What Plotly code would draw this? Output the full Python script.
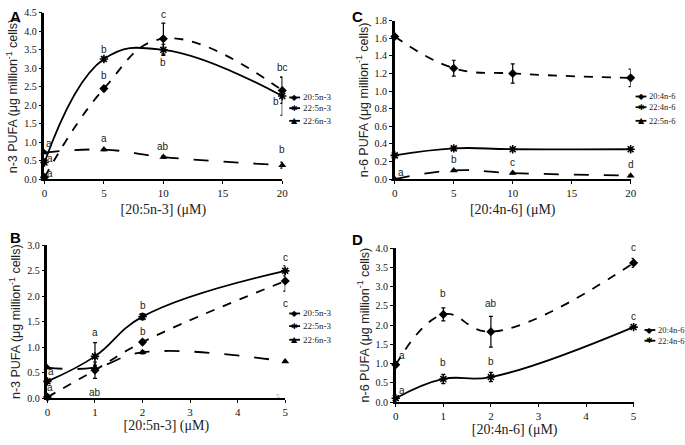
import plotly.graph_objects as go

# ---- data ----
# panel A: n-3 PUFA vs [20:5n-3], long dose range
dose_a = [0, 5, 10, 20]
epa_a = [0.05, 2.45, 3.8, 2.4]
epa_a_err = [0.03, 0.06, 0.42, 0.35]
dpa_a = [0.45, 3.25, 3.5, 2.25]
dpa_a_err = [0.05, 0.05, 0.15, 0.52]
dha_a = [0.72, 0.8, 0.6, 0.38]
dha_a_err = [0.03, 0.03, 0.03, 0.08]

# panel B: n-3 PUFA vs [20:5n-3], short dose range
dose_b = [0, 1, 2, 5]
epa_b = [0.02, 0.55, 1.1, 2.3]
epa_b_err = [0.02, 0.16, 0.04, 0.2]
dpa_b = [0.33, 0.82, 1.6, 2.5]
dpa_b_err = [0.04, 0.27, 0.06, 0.1]
dha_b = [0.6, 0.6, 0.9, 0.72]
dha_b_err = [0.02, 0.05, 0.03, 0.02]

# panel C: n-6 PUFA vs [20:4n-6], long dose range
dose_c = [0, 5, 10, 20]
aa_c = [1.62, 1.26, 1.2, 1.15]
aa_c_err = [0.02, 0.09, 0.11, 0.1]
dta_c = [0.27, 0.35, 0.34, 0.34]
dta_c_err = [0.01, 0.01, 0.01, 0.01]
dpa6_c = [0.0, 0.1, 0.07, 0.04]
dpa6_c_err = [0.0, 0.01, 0.01, 0.01]

# panel D: n-6 PUFA vs [20:4n-6], short dose range
dose_d = [0, 1, 2, 5]
aa_d = [0.97, 2.28, 1.83, 3.62]
aa_d_err = [0.05, 0.17, 0.4, 0.12]
dta_d = [0.1, 0.6, 0.65, 1.95]
dta_d_err = [0.02, 0.12, 0.12, 0.03]

n3_names = ["20:5n-3", "22:5n-3", "22:6n-3"]
n6_names_c = ["20:4n-6", "22:4n-6", "22:5n-6"]
n6_names_d = ["20:4n-6", "22:4n-6"]

SERIF = "Liberation Serif"
SANS = "Liberation Sans"
W, H = 685, 445

fig = go.Figure()

panels = {"A": ("x", "y"), "B": ("x2", "y2"), "C": ("x3", "y3"), "D": ("x4", "y4")}


def add_series(panel, xs, ys, err, name, symbol, dash):
    xa, ya = panels[panel]
    line_sym = symbol.endswith("open")
    fig.add_trace(go.Scatter(
        x=xs, y=ys, name=name, xaxis=xa, yaxis=ya, showlegend=False,
        mode="lines+markers", line=dict(color="black", width=1.8, dash=dash, shape="spline", smoothing=1.2),
        marker=dict(symbol=symbol, size=7, color="black",
                    line=dict(color="black", width=1.6 if line_sym else 0)),
        error_y=dict(type="data", array=err, color="black", thickness=1.2, width=2),
        cliponaxis=False,
    ))


add_series("A", dose_a, epa_a, epa_a_err, n3_names[0], "diamond", "dash")
add_series("A", dose_a, dpa_a, dpa_a_err, n3_names[1], "asterisk-open", "solid")
add_series("A", dose_a, dha_a, dha_a_err, n3_names[2], "triangle-up", "longdash")

add_series("B", dose_b, epa_b, epa_b_err, n3_names[0], "diamond", "dash")
add_series("B", dose_b, dpa_b, dpa_b_err, n3_names[1], "asterisk-open", "solid")
add_series("B", dose_b, dha_b, dha_b_err, n3_names[2], "triangle-up", "longdash")

add_series("C", dose_c, aa_c, aa_c_err, n6_names_c[0], "diamond", "dash")
add_series("C", dose_c, dta_c, dta_c_err, n6_names_c[1], "asterisk-open", "solid")
add_series("C", dose_c, dpa6_c, dpa6_c_err, n6_names_c[2], "triangle-up", "longdash")

add_series("D", dose_d, aa_d, aa_d_err, n6_names_d[0], "diamond", "dash")
add_series("D", dose_d, dta_d, dta_d_err, n6_names_d[1], "asterisk-open", "solid")


def letter(panel, x, y, text, dx=0, dy=0):
    xa, ya = panels[panel]
    fig.add_annotation(x=x, y=y, xref=xa, yref=ya, text=text, showarrow=False,
                       xanchor="center", yanchor="middle",
                       xshift=dx, yshift=dy, font=dict(family=SANS, size=10, color="#222"))


# significance letters, panel A
letter("A", 0, epa_a[0], "a", 6, 4)
letter("A", 5, epa_a[1], "b", 0, 13)
letter("A", 10, epa_a[2], "c", 0, 24)
letter("A", 20, epa_a[3], "bc", 0, 23)
letter("A", 0, dpa_a[0], "a", 6, 4)
letter("A", 5, dpa_a[1], "b", 0, 10)
letter("A", 10, dpa_a[2], "b", 0, -13)
letter("A", 20, dpa_a[3], "b", -6, -5)
letter("A", 0, dha_a[0], "a", 5, 9)
letter("A", 5, dha_a[1], "a", 0, 11)
letter("A", 10, dha_a[2], "ab", 0, 11)
letter("A", 20, dha_a[3], "b", 0, 16)

# panel B
letter("B", 0, epa_b[0], "a", 3, 10)
letter("B", 1, epa_b[1], "ab", 0, -22)
letter("B", 2, epa_b[2], "b", 0, 11)
letter("B", 5, epa_b[3], "c", 0, -22)
letter("B", 0, dpa_b[0], "a", 4, 10)
letter("B", 1, dpa_b[1], "a", 0, 24)
letter("B", 2, dpa_b[2], "b", 0, 11)
letter("B", 5, dpa_b[3], "c", 0, 13)
fig.add_annotation(x=4.85, y=0.05, xref="x2", yref="y2", text="5", showarrow=False,
                   font=dict(family=SERIF, size=7, color="#999"))

# panel C
letter("C", 0, dpa6_c[0], "a", 6, 7)
letter("C", 5, dpa6_c[1], "b", 0, 11)
letter("C", 10, dpa6_c[2], "c", 0, 11)
letter("C", 20, dpa6_c[3], "d", 0, 11)

# panel D
letter("D", 0, aa_d[0], "a", 6, 9)
letter("D", 1, aa_d[1], "b", 0, 21)
letter("D", 2, aa_d[2], "ab", 0, 28)
letter("D", 5, aa_d[3], "c", 0, 15)
letter("D", 0, dta_d[0], "a", 6, 8)
letter("D", 1, dta_d[1], "b", 0, 16)
letter("D", 2, dta_d[2], "b", 0, 16)
letter("D", 5, dta_d[3], "c", 0, 11)

# panel letters
for txt, x, y in [("A", 0.008, 1.0), ("C", 0.513, 1.0), ("B", 0.008, 0.49), ("D", 0.513, 0.485)]:
    fig.add_annotation(x=x, y=y, xref="paper", yref="paper", text="<b>%s</b>" % txt, showarrow=False,
                       xanchor="left", yanchor="top", font=dict(family=SANS, size=15, color="black"))

# small Excel-style legends: short line, glyph, label
glyphs = ["◆", "✱", "▲"]


def small_legend(names, x0, rows, fsize=9):
    for name, glyph, row in zip(names, glyphs, rows):
        yp = 1 - row / H
        fig.add_shape(type="line", xref="paper", yref="paper", x0=x0 / W, x1=(x0 + 11) / W, y0=yp, y1=yp,
                      line=dict(color="black", width=1.8))
        fig.add_annotation(x=(x0 + 5.5) / W, y=yp, xref="paper", yref="paper", text=glyph, showarrow=False,
                           xanchor="center", yanchor="middle",
                           font=dict(family="DejaVu Sans", size=8, color="black"))
        fig.add_annotation(x=(x0 + 12) / W, y=yp, xref="paper", yref="paper", text=name, showarrow=False,
                           xanchor="left", yanchor="middle", font=dict(family=SERIF, size=fsize, color="#222"))


small_legend(n3_names, 290, [94, 105, 118])
small_legend(n3_names, 290, [316, 329, 343])
small_legend(n6_names_c, 641, [93, 104, 118], 8.5)
small_legend(n6_names_d, 650, [333, 344], 8.5)


def dom(p0, p1, total):
    return [p0 / total, p1 / total]


xcommon = dict(showline=True, linecolor="black", linewidth=2, ticks="outside", ticklen=3,
               tickcolor="black", showgrid=False, zeroline=False,
               tickfont=dict(family=SERIF, size=11, color="#111"))
ycommon = dict(showline=True, linecolor="black", linewidth=2.5, ticks="outside", ticklen=3,
               tickcolor="black", showgrid=False, zeroline=False,
               tickfont=dict(family=SERIF, size=10, color="#111"))
ytitle_font = dict(family=SANS, size=12.5, color="#222")
xtitle_font = dict(family=SERIF, size=14, color="#222")
n3_title = "n-3 PUFA (μg million<sup>-1</sup> cells)"
n6_title = "n-6 PUFA (μg million<sup>-1</sup> cells)"

fig.update_layout(
    width=W, height=H, margin=dict(l=0, r=0, t=0, b=0),
    paper_bgcolor="white", plot_bgcolor="white", showlegend=False,
    xaxis=dict(xcommon, domain=dom(42, 283, W), range=[0, 20], tickvals=[0, 5, 10, 15, 20], anchor="y",
               title=dict(text="[20:5n-3] (μM)", font=xtitle_font, standoff=6)),
    yaxis=dict(ycommon, domain=[1 - 178 / H, 1 - 7 / H], range=[0, 4.5], dtick=0.5, tickformat=".1f", anchor="x",
               title=dict(text=n3_title, font=ytitle_font, standoff=4)),
    xaxis2=dict(xcommon, domain=dom(45, 286, W), range=[0, 5], dtick=1, anchor="y2",
                title=dict(text="[20:5n-3] (μM)", font=xtitle_font, standoff=2)),
    yaxis2=dict(ycommon, domain=[1 - 403 / H, 1 - 246 / H], range=[0, 3], dtick=0.5, tickformat=".1f", anchor="x2",
                title=dict(text=n3_title, font=ytitle_font, standoff=4)),
    xaxis3=dict(xcommon, domain=dom(397, 636, W), range=[0, 20], tickvals=[0, 5, 10, 15, 20], anchor="y3",
                title=dict(text="[20:4n-6] (μM)", font=xtitle_font, standoff=6)),
    yaxis3=dict(ycommon, domain=[1 - 178 / H, 1 - 15 / H], range=[0, 1.8], dtick=0.2, tickformat=".1f", anchor="x3",
                title=dict(text=n6_title, font=ytitle_font, standoff=4)),
    xaxis4=dict(xcommon, domain=dom(398, 639, W), range=[0, 5], dtick=1, anchor="y4",
                title=dict(text="[20:4n-6] (μM)", font=xtitle_font, standoff=0)),
    yaxis4=dict(ycommon, domain=[1 - 407 / H, 1 - 249 / H], range=[0, 4], dtick=0.5, tickformat=".1f", anchor="x4",
                title=dict(text=n6_title, font=ytitle_font, standoff=4)),
)

# drop the page's default body margin so the 685x445 figure fills the window
fig.write_html("out.html", config={"displayModeBar": False},
               post_script="document.body.style.margin='0px';")
